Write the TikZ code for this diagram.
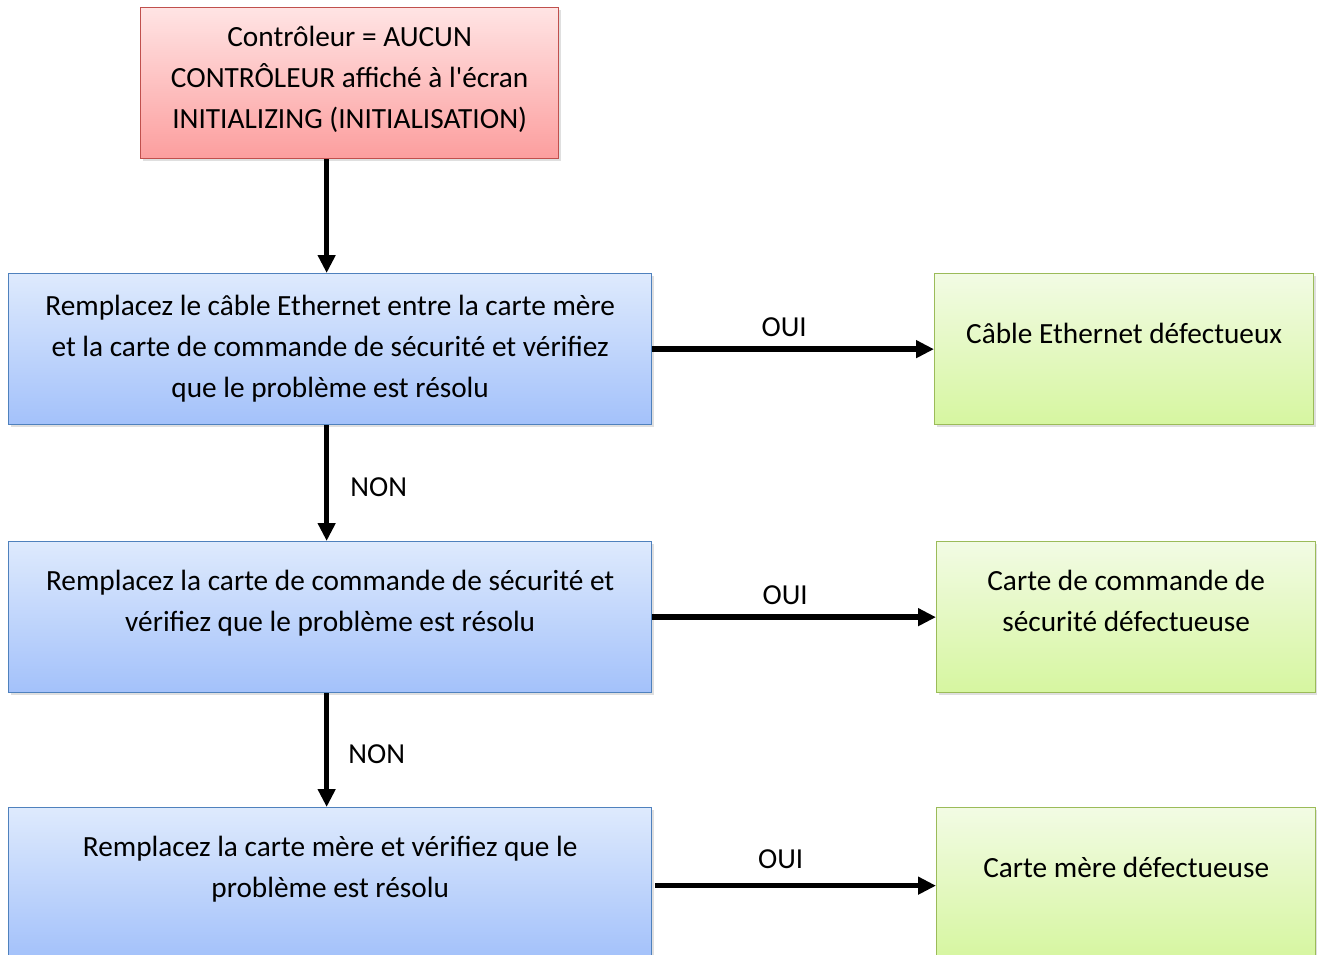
\documentclass[tikz,border=0pt]{standalone}
\usepackage{fontspec}
\setmainfont{Carlito}
\usetikzlibrary{positioning, arrows.meta, shadows}

\definecolor{redline}{RGB}{192,80,77}
\definecolor{redtop}{RGB}{255,228,228}
\definecolor{redbot}{RGB}{252,158,158}
\definecolor{blueline}{RGB}{79,129,189}
\definecolor{bluetop}{RGB}{222,234,253}
\definecolor{bluebot}{RGB}{163,193,250}
\definecolor{greenline}{RGB}{155,187,89}
\definecolor{greentop}{RGB}{242,251,228}
\definecolor{greenbot}{RGB}{214,246,160}

\tikzset{
    box/.style={rectangle, anchor=north west, inner sep=0pt, line width=1.3pt,
        drop shadow={opacity=0.25, shadow xshift=2pt, shadow yshift=-2pt}},
    redbox/.style={box, draw=redline, top color=redtop, bottom color=redbot},
    bluebox/.style={box, draw=blueline, top color=bluetop, bottom color=bluebot,
        minimum width=643pt, minimum height=151pt},
    greenbox/.style={box, draw=greenline, top color=greentop, bottom color=greenbot,
        minimum width=379pt, minimum height=151pt},
    txt/.style={anchor=north, inner sep=0pt, align=center, font=\fontsize{29.3}{41}\selectfont},
    lbl/.style={inner sep=0pt, font=\fontsize{29}{35}\selectfont},
    flow/.style={line width=5.5pt, -{Triangle[length=18pt,width=17pt]}}
}

\begin{document}
\begin{tikzpicture}[x=1pt, y=-1pt]
    \useasboundingbox (0,0) rectangle (1317,955);
    \clip (0,0) rectangle (1317,955);

    % Start
    \node[redbox, minimum width=418pt, minimum height=151pt] (start) at (140,7) {};
    \node[txt, below=11pt of start.north] (starttxt) {\strut Contrôleur = AUCUN\\CONTRÔLEUR affiché à l\textquotesingle écran\\INITIALIZING (INITIALISATION)};

    % Checks
    \node[bluebox] (cable) at (8,273) {};
    \node[txt, below=14pt of cable.north] (cabletxt) {\strut Remplacez le câble Ethernet entre la carte mère\\et la carte de commande de sécurité et vérifiez\\que le problème est résolu};

    \node[bluebox] (board) at (8,541) {};
    \node[txt, below=21pt of board.north] (boardtxt) {\strut Remplacez la carte de commande de sécurité et\\vérifiez que le problème est résolu};

    \node[bluebox] (mother) at (8,807) {};
    \node[txt, below=21pt of mother.north] (mothertxt) {\strut Remplacez la carte mère et vérifiez que le\\problème est résolu};

    % Results
    \node[greenbox] (badcable) at (934,273) {};
    \node[txt, below=42pt of badcable.north] (badcabletxt) {\strut Câble Ethernet défectueux};

    \node[greenbox] (badboard) at (936,541) {};
    \node[txt, below=21pt of badboard.north] (badboardtxt) {\strut Carte de commande de\\sécurité défectueuse};

    \node[greenbox] (badmother) at (936,807) {};
    \node[txt, below=42pt of badmother.north] (badmothertxt) {\strut Carte mère défectueuse};

    % Arrows
    \draw[flow] ([xshift=-3.5pt]cable.north |- start.south) -- ([xshift=-3.5pt]cable.north);
    \draw[flow] ([xshift=-3.5pt]cable.south) -- node[lbl, right=21pt, yshift=-4pt] (non1) {NON} ([xshift=-3.5pt]board.north);
    \draw[flow] ([xshift=-3.5pt]board.south) -- node[lbl, right=19pt, yshift=-4pt] (non2) {NON} ([xshift=-3.5pt]mother.north);

    \draw[flow] (cable.east) -- node[lbl, above=10pt, xshift=-9pt] (oui1) {OUI} (badcable.west);
    \draw[flow] (board.east) -- node[lbl, above=10pt, xshift=-9pt] (oui2) {OUI} (badboard.west);
    \draw[flow] ([xshift=3pt, yshift=-2.5pt]mother.east) -- node[lbl, above=14pt, xshift=-15pt] (oui3) {OUI} ([yshift=-2.5pt]badmother.west);
\end{tikzpicture}
\end{document}
